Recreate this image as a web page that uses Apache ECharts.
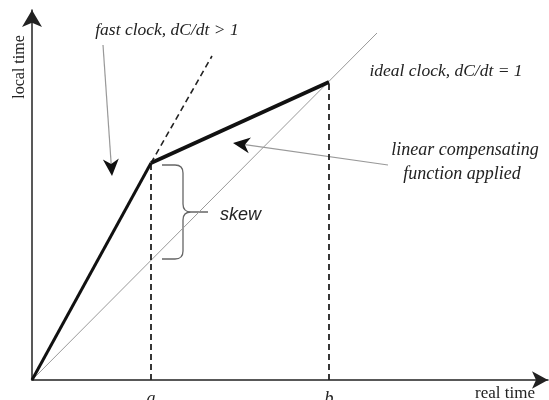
<!DOCTYPE html>
<html>
<head>
<meta charset="utf-8">
<script src="https://cdn.jsdelivr.net/npm/echarts@6/dist/echarts.min.js"></script>
<style>
  html, body { margin: 0; padding: 0; background: #fff; }
  #chart { width: 549px; height: 400px; }
</style>
</head>
<body>
<div id="chart"></div>
<script>
// clock skew sketch, units are roughly screen pixels from the origin

var tickValues = [119, 297];
var tickNames = ['a', 'b'];

var fastClock = [[0, 0], [119, 217]];
var fastExtend = [[119, 217], [180, 324]];
var compensating = [[119, 217], [297, 298]];
var idealClock = [[0, 0], [345, 347]];
var markA = [[119, 0], [119, 217]];
var markB = [[297, 0], [297, 298]];

// pointer arrows: [fromX, fromY, toX, toY]
var pointers = [[71, 335, 80, 204], [356, 215, 201, 237]];

// skew brace: [x end, x vertical, x tip, y top, y middle, y bottom]
var brace = [[130, 151, 176, 215, 168, 121]];

var noteText = ['local time', 'fast clock, dC/dt > 1', 'ideal clock, dC/dt = 1',
    'linear compensating', 'function applied', 'skew', 'real time'];
var notePos = [[-12, 313], [135, 350], [414, 309], [433, 230], [430, 206], [188, 165], [473, -14]];

var serif = "'Liberation Serif', 'DejaVu Serif', serif";
var noteFont = [
    '16px ' + serif,
    'italic 17.5px ' + serif,
    'italic 17.5px ' + serif,
    'italic 18px ' + serif,
    'italic 18px ' + serif,
    "italic 18px 'Liberation Sans', Arial, sans-serif",
    '17px ' + serif
];
var noteAlign = ['center', 'center', 'center', 'center', 'center', 'left', 'center'];

var chart = echarts.init(document.getElementById('chart'));

function lineSeries(data, width, type, color) {
    return {
        type: 'line',
        data: data,
        symbol: 'none',
        silent: true,
        lineStyle: { width: width, type: type, color: color }
    };
}

var option = {
    animation: false,
    backgroundColor: '#fff',
    grid: { left: 32, right: 1, top: 10, bottom: 20, outerBoundsMode: 'none' },
    xAxis: {
        type: 'value',
        min: 0,
        max: 516,
        axisLine: {
            lineStyle: { color: '#222', width: 1.5 },
            symbol: ['none', 'arrow'],
            symbolSize: [13, 16]
        },
        axisTick: { show: false },
        splitLine: { show: false },
        axisLabel: {
            customValues: tickValues,
            margin: 10,
            color: '#222',
            fontFamily: 'Liberation Serif',
            fontStyle: 'italic',
            fontSize: 18,
            formatter: function (v) {
                var i = tickValues.indexOf(v);
                return i >= 0 ? tickNames[i] : '';
            }
        }
    },
    yAxis: {
        type: 'value',
        min: 0,
        max: 370,
        axisLine: {
            show: true,
            lineStyle: { color: '#222', width: 1.5 },
            symbol: ['none', 'arrow'],
            symbolSize: [15, 17]
        },
        axisTick: { show: false },
        splitLine: { show: false },
        axisLabel: { show: false }
    },
    series: [
        lineSeries(idealClock, 1, 'solid', '#999'),
        lineSeries(markA, 1.8, [6, 4], '#222'),
        lineSeries(markB, 1.8, [6, 4], '#222'),
        lineSeries(fastExtend, 1.6, [6, 4], '#222'),
        lineSeries(fastClock, 3, 'solid', '#111'),
        lineSeries(compensating, 3.8, 'solid', '#111'),
        {
            type: 'custom',
            silent: true,
            clip: false,
            data: pointers,
            renderItem: function (params, api) {
                var p1 = api.coord([api.value(0), api.value(1)]);
                var p2 = api.coord([api.value(2), api.value(3)]);
                var dx = p2[0] - p1[0], dy = p2[1] - p1[1];
                var len = Math.sqrt(dx * dx + dy * dy);
                var ux = dx / len, uy = dy / len;
                var L = 17, W = 8, N = 5;
                var bx = p2[0] - L * ux, by = p2[1] - L * uy;
                return {
                    type: 'group',
                    children: [{
                        type: 'line',
                        shape: { x1: p1[0], y1: p1[1], x2: bx + N * ux, y2: by + N * uy },
                        style: { stroke: '#999', lineWidth: 1.2 }
                    }, {
                        type: 'polygon',
                        shape: {
                            points: [
                                p2,
                                [bx - W * uy, by + W * ux],
                                [bx + N * ux, by + N * uy],
                                [bx + W * uy, by - W * ux]
                            ]
                        },
                        style: { fill: '#111' }
                    }]
                };
            }
        },
        {
            type: 'custom',
            silent: true,
            clip: false,
            data: brace,
            renderItem: function (params, api) {
                var top = api.coord([api.value(0), api.value(3)]);
                var mid = api.coord([api.value(2), api.value(4)]);
                var bot = api.coord([api.value(1), api.value(5)]);
                var xe = top[0], yt = top[1];
                var xv = bot[0], yb = bot[1];
                var xt = mid[0], ym = mid[1];
                var r = 8;
                var d = 'M' + xe + ' ' + yt + ' L' + (xv - r) + ' ' + yt +
                    ' Q' + xv + ' ' + yt + ' ' + xv + ' ' + (yt + r) +
                    ' L' + xv + ' ' + (ym - r) +
                    ' Q' + xv + ' ' + ym + ' ' + (xv + r) + ' ' + ym +
                    ' L' + xt + ' ' + ym +
                    ' M' + (xv + r) + ' ' + ym +
                    ' Q' + xv + ' ' + ym + ' ' + xv + ' ' + (ym + r) +
                    ' L' + xv + ' ' + (yb - r) +
                    ' Q' + xv + ' ' + yb + ' ' + (xv - r) + ' ' + yb +
                    ' L' + xe + ' ' + yb;
                return {
                    type: 'path',
                    shape: { pathData: d },
                    style: { stroke: '#666', lineWidth: 1.3, fill: null }
                };
            }
        },
        {
            type: 'custom',
            silent: true,
            clip: false,
            data: notePos,
            renderItem: function (params, api) {
                var p = api.coord([api.value(0), api.value(1)]);
                var i = params.dataIndex;
                return {
                    type: 'text',
                    x: p[0],
                    y: p[1],
                    rotation: i === 0 ? Math.PI / 2 : 0,
                    style: {
                        text: noteText[i],
                        font: noteFont[i],
                        fill: '#222',
                        align: noteAlign[i],
                        verticalAlign: 'middle'
                    }
                };
            }
        }
    ]
};

chart.setOption(option);
</script>
</body>
</html>
